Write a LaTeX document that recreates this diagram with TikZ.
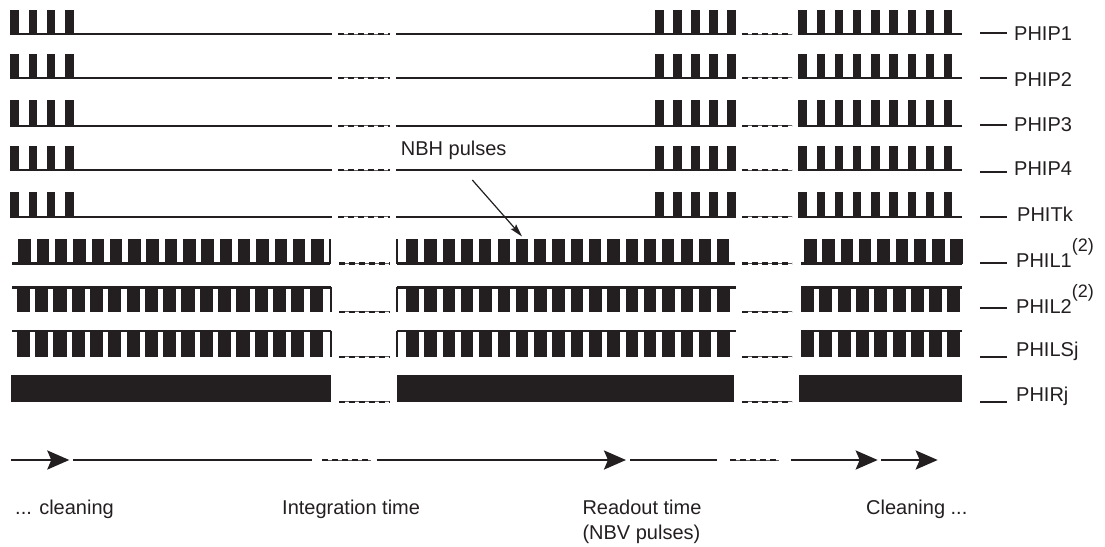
\documentclass[tikz,border=0pt]{standalone}
\usepackage{fontspec}
\setmainfont{Liberation Sans}
\usetikzlibrary{arrows.meta}
\definecolor{ink}{RGB}{35,31,32}
\begin{document}
\begin{tikzpicture}[x=1pt,y=-1pt,line cap=butt,
  sig/.style={draw=ink,line width=2.4pt},
  edgeline/.style={draw=ink,line width=1.7pt},
  gapdash/.style={draw=ink,line width=2.4pt,dash pattern=on 6pt off 4pt},
  gapthin/.style={draw=ink!70,line width=0.8pt},
  lbl/.style={anchor=base west,inner sep=0pt,font=\fontsize{20}{22}\selectfont,text=ink},
  tickline/.style={draw=ink,line width=2.2pt},
  flow/.style={draw=ink,line width=2.4pt,-{Stealth[length=22pt,width=19pt,inset=4pt]}},
  pointer/.style={draw=ink,line width=1.2pt,-{Stealth[length=13pt,width=7pt,inset=2pt]}},
]
\useasboundingbox (0,0) rectangle (1105,546);

% gap separators
\newcommand{\gapsep}[3]{%
  \draw[gapthin] (#1,#3) -- (#2,#3);
  \draw[gapdash] (#1,#3) -- (#2,#3);}

% ---------- PHIP / PHIT rows ----------
\foreach \yb/\yt in {34/10, 77.7/54, 125.7/100, 170/146, 216.7/192} {
  \draw[sig] (10.3,\yb) -- (332,\yb);
  \foreach \k in {0,...,3}
    \fill[ink] ({10.3+18.3*\k},\yt) rectangle ({18.8+18.3*\k},\yb);
  \gapsep{338}{390}{\yb}
  \draw[sig] (396,\yb) -- (736,\yb);
  \foreach \k in {0,...,4}
    \fill[ink] ({655+18.1*\k},\yt) rectangle ({664+18.1*\k},\yb);
  \gapsep{742}{792}{\yb}
  \draw[sig] (798.3,\yb) -- (961.7,\yb);
  \foreach \k in {0,...,8}
    \fill[ink] ({798.3+18.2*\k},\yt) rectangle ({806.7+18.2*\k},\yb);
}

% ---------- PHIL1 ----------
\def\ta{239}\def\ba{263.5}
\draw[sig] (12.3,\ba) -- (330,\ba);
\foreach \k in {0,...,16}
  \fill[ink] ({18.3+18.3*\k},\ta) rectangle ({30.8+18.3*\k},\ba);
\draw[edgeline] (330,\ta) -- (330,\ba);
\gapsep{339}{390}{\ba}
\draw[edgeline] (397.3,\ta) -- (397.3,\ba);
\draw[sig] (397.3,\ba) -- (735,\ba);
\foreach \k in {0,...,17}
  \fill[ink] ({406+18.3*\k},\ta) rectangle ({418.2+18.3*\k},\ba);
\gapsep{742}{792}{\ba}
\draw[sig] (801,\ba) -- (961.7,\ba);
\foreach \k in {0,...,8}
  \fill[ink] ({804+18.3*\k},\ta) rectangle ({816.5+18.3*\k},\ba);

% ---------- PHIL2 and PHILSj ----------
\foreach \yt/\yb in {287.3/311.7, 330.7/356.7} {
  \draw[sig] (12.3,\yt) -- (331,\yt);
  \foreach \k in {0,...,16}
    \fill[ink] ({16.7+18.3*\k},\yt) rectangle ({29.9+18.3*\k},\yb);
  \draw[edgeline] (331,\yt) -- (331,\yb);
  \gapsep{339}{390}{\yb}
  \draw[edgeline] (397.3,\yt) -- (397.3,\yb);
  \draw[sig] (397.3,\yt) -- (736,\yt);
  \foreach \k in {0,...,17}
    \fill[ink] ({406+18.3*\k},\yt) rectangle ({418.5+18.3*\k},\yb);
  \gapsep{742}{792}{\yb}
  \draw[sig] (801,\yt) -- (962,\yt);
  \foreach \k in {0,...,8}
    \fill[ink] ({801+18.3*\k},\yt) rectangle ({814+18.3*\k},\yb);
}

% ---------- PHIRj ----------
\fill[ink] (11,375) rectangle (331,401.7);
\fill[ink] (397.3,375) rectangle (734,401.7);
\fill[ink] (799.3,375) rectangle (961.7,401.7);
\gapsep{339}{390}{401.7}
\gapsep{742}{792}{401.7}

% ---------- labels ----------
\foreach \yl/\yt/\xt/\nm/\txt in {
  33.3/40.7/1014/lp1/PHIP1,
  78.3/86/1014/lp2/PHIP2,
  125/131.7/1014/lp3/PHIP3,
  171.7/175.7/1014/lp4/PHIP4,
  217.3/221.7/1017/ltk/PHITk,
  356.7/356.7/1016/llsj/PHILSj,
  401.7/401.7/1016/lrj/PHIRj} {
  \node[lbl] (\nm) at (\xt,\yt) {\txt};
  \draw[tickline] (980,\yl) -- (1006.7,\yl);
}
\node[lbl] (ll1) at (1016,267.3) {PHIL1\raisebox{16pt}{\fontsize{18}{18}\selectfont (2)}};
\draw[tickline] (980,263.3) -- (1006.7,263.3);
\node[lbl] (ll2) at (1016,313.3) {PHIL2\raisebox{16pt}{\fontsize{18}{18}\selectfont (2)}};
\draw[tickline] (980,308.3) -- (1006.7,308.3);

% ---------- NBH pulses ----------
\node[lbl] (nbh) at (400.7,155) {NBH pulses};
\coordinate (nbhs) at (472.3,180);
\coordinate (nbht) at (522,236.5);
\draw[pointer] (nbhs) -- (nbht);

% ---------- time axis ----------
\coordinate (a0) at (11,460);
\coordinate (a1) at (69.3,460);
\draw[flow] (a0) -- (a1);
\draw[sig] (73.3,460) -- (311.7,460);
\gapsep{322.3}{370.7}{460}
\draw[flow] (376.7,460) -- (626,460);
\draw[sig] (630,460) -- (716.7,460);
\gapsep{730}{779}{460}
\draw[flow] (790.7,460) -- (877.7,460);
\draw[flow] (881,460) -- (937.7,460);

\node[lbl] (tcl) at (15,514.5) {... cleaning};
\node[lbl] (tint) at (282,514.5) {Integration time};
\node[lbl] (tro) at (582.3,514.5) {Readout time};
\node[lbl] (tnbv) at (582.3,539) {(NBV pulses)};
\node[lbl] (tcl2) at (866,514.5) {Cleaning ...};
\end{tikzpicture}
\end{document}
